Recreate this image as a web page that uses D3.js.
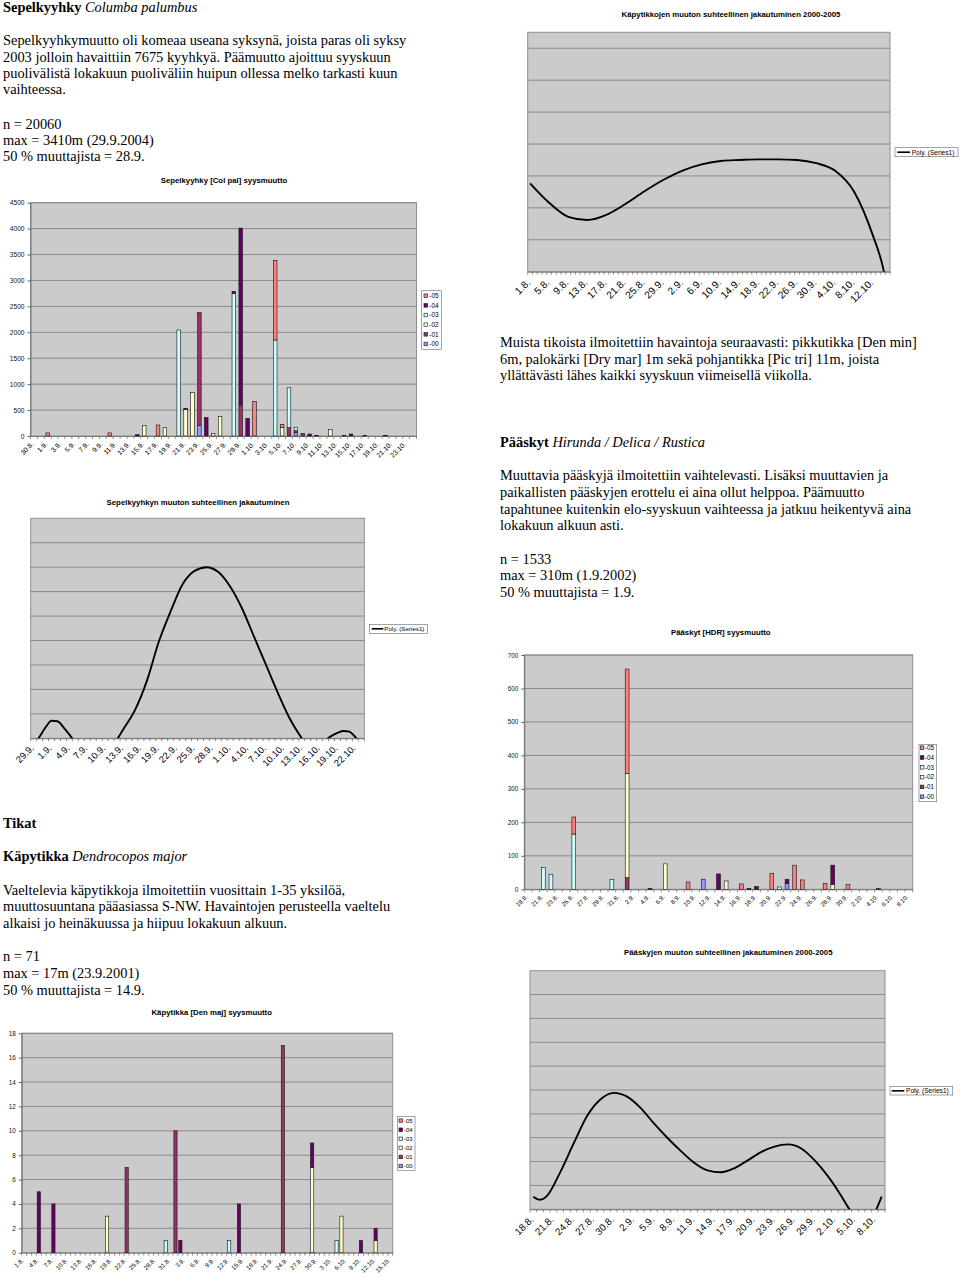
<!DOCTYPE html>
<html><head><meta charset="utf-8">
<script src="https://cdn.jsdelivr.net/npm/d3@7"></script>
<style>
body{margin:0;background:#fff}
svg{display:block}
.serif{font-family:"Liberation Serif","Times New Roman",serif;font-size:14.4px;fill:#000}
.sans{font-family:"Liberation Sans",Arial,sans-serif;fill:#000}
</style></head><body>
<svg id="c" width="960" height="1277"></svg>
<script>
// ================= DATA =================
const seriesKeys = ["-00","-01","-02","-03","-04","-05"];
const seriesColors = ["#9999ff","#993366","#ffffcc","#ccffff","#660066","#ff8080"];

function dayLabels(d, m, n){
  const ml = {8:31, 9:30, 10:31};
  const out = [];
  for(let k=0;k<n;k++){ out.push(d+"."+m+"."); d++; if(d>ml[m]){d=1;m++;} }
  return out;
}

// Sepelkyyhky [Col pal] syysmuutto (stacked by year)
const colpalCats = dayLabels(30, 8, 56);
const colpalTicks = ["30.8.","1.9.","3.9.","5.9.","7.9.","9.9.","11.9.","13.9.","15.9.","17.9.","19.9.","21.9.","23.9.","25.9.","27.9.","29.9.","1.10.","3.10.","5.10.","7.10.","9.10.","11.10.","13.10.","15.10.","17.10.","19.10.","21.10.","23.10."];
//            cat      -00  -01   -02   -03   -04   -05
const colpalRows = [
  ["1.9.",    0,    0,    0,    0,    0,   60],
  ["10.9.",   0,    0,    0,    0,    0,   60],
  ["14.9.",   0,    0,    0,    0,   25,    0],
  ["15.9.",   0,    0,  205,    0,    0,    0],
  ["17.9.",   0,    0,    0,    0,    0,  212],
  ["18.9.",   0,    0,  160,    0,    0,    0],
  ["20.9.",   0,    0,    0, 2045,    0,    0],
  ["21.9.",   0,    0,  510,    0,   25,    0],
  ["22.9.",   0,    0,  836,    0,    0,    0],
  ["23.9.", 200, 2180,    0,    0,    0,    0],
  ["24.9.",   0,    0,    0,    0,  354,    0],
  ["25.9.",   0,    0,   45,    0,    0,    0],
  ["26.9.",   0,    0,  373,    0,    0,    0],
  ["28.9.",   0,    0,    0, 2750,   40,    0],
  ["29.9.",   0,  600,    0,    0, 3410,    0],
  ["30.9.",   0,    0,    0,    0,  340,    0],
  ["1.10.",   0,    0,    0,    0,    0,  669],
  ["4.10.",   0,    0,    0, 1852,    0, 1530],
  ["5.10.",   0,    0,  160,    0,    0,   65],
  ["6.10.",   0,  160,    0,  770,    0,    0],
  ["7.10.",  65,   40,    0,   65,    0,    0],
  ["8.10.",   0,   50,    0,    0,    0,    0],
  ["9.10.",   0,    0,    0,    0,   38,    0],
  ["10.10.",  0,   13,    0,    0,    0,    0],
  ["12.10.",  0,    0,  128,    0,    0,    0],
  ["14.10.",  0,   13,    0,    0,    0,    0],
  ["15.10.",  0,    0,    0,    0,   38,    0],
  ["17.10.",  0,   13,    0,    0,    0,    0],
  ["20.10.",  0,    6,    0,    0,    0,    0]
];
const colpalYTicks = [0,500,1000,1500,2000,2500,3000,3500,4000,4500];

// Käpytikkojen muuton suhteellinen jakautuminen (trend line)
const kapyRelCats = dayLabels(1, 8, 76);
const kapyRelTicks = ["1.8.","5.8.","9.8.","13.8.","17.8.","21.8.","25.8.","29.9.","2.9.","6.9.","10.9.","14.9.","18.9.","22.9.","26.9.","30.9.","4.10.","8.10.","12.10."];
const kapyRelCurve = [["1.8.",2.77],["5.8.",2.16],["9.8.",1.72],["13.8.",1.62],["17.8.",1.78],["21.8.",2.12],["25.8.",2.52],["29.8.",2.88],["2.9.",3.17],["6.9.",3.36],["10.9.",3.47],["14.9.",3.50],["18.9.",3.52],["22.9.",3.52],["26.9.",3.50],["30.9.",3.40],["4.10.",3.16],["8.10.",2.50],["12.10.",1.10],["14.10.",0.15],["15.10.",-0.6]];

// Sepelkyyhkyn muuton suhteellinen jakautuminen (trend line)
const colpalRelCats = dayLabels(29, 8, 56);
const colpalRelTicks = ["29.9.","1.9.","4.9.","7.9.","10.9.","13.9.","16.9.","19.9.","22.9.","25.9.","28.9.","1.10.","4.10.","7.10.","10.10.","13.10.","16.10.","19.10.","22.10."];
const colpalRelCurve = [["29.8.",-0.3],["30.8.",0.07],["31.8.",0.45],["1.9.",0.72],["2.9.",0.70],["3.9.",0.45],["4.9.",0.15],["5.9.",-0.2],["6.9.",null],
  ["11.9.",-0.5],["12.9.",-0.05],["13.9.",0.35],["15.9.",1.15],["17.9.",2.35],["19.9.",3.95],["21.9.",5.2],["23.9.",6.3],["25.9.",6.85],["27.9.",7.0],["29.9.",6.8],["1.10.",6.2],["3.10.",5.3],["5.10.",4.15],["7.10.",3.0],["9.10.",1.85],["11.10.",0.8],["13.10.",0.0],["14.10.",-0.35],["15.10.",null],
  ["17.10.",-0.08],["18.10.",0.10],["19.10.",0.22],["20.10.",0.30],["21.10.",0.27],["22.10.",0.05],["23.10.",-0.2]];

// Pääskyt [HDR] syysmuutto (stacked by year)
const hdrCats = dayLabels(19, 8, 51);
const hdrTicks = ["19.8.","21.8.","23.8.","25.8.","27.8.","29.8.","31.8.","2.9.","4.9.","6.9.","8.9.","10.9.","12.9.","14.9.","16.9.","18.9.","20.9.","22.9.","24.9.","26.9.","28.9.","30.9.","2.10.","4.10.","6.10.","8.10."];
const hdrRows = [
  ["21.8.",  0,  0,   0,  65,  0,   0],
  ["22.8.",  0,  0,   0,  45,  0,   0],
  ["25.8.",  0,  0,   0, 165,  0,  51],
  ["30.8.",  0,  0,   0,  30,  0,   0],
  ["1.9.",   0, 35, 311,   0,  0, 312],
  ["4.9.",   0,  0,   0,   0,  3,   0],
  ["6.9.",   0,  0,  76,   0,  0,   0],
  ["9.9.",   0,  0,   0,   0,  0,  22],
  ["11.9.", 30,  0,   0,   0,  0,   0],
  ["13.9.",  0,  0,   0,   0, 46,   0],
  ["14.9.",  0,  0,  25,   0,  0,   0],
  ["16.9.",  0,  0,   0,   0,  0,  16],
  ["17.9.",  0,  0,   0,   0,  3,   0],
  ["18.9.",  0,  0,   0,   0,  8,   0],
  ["20.9.",  0,  0,   0,   0,  0,  48],
  ["21.9.",  0,  0,   0,   7,  0,   0],
  ["22.9.", 18,  0,   0,   0, 12,   0],
  ["23.9.",  0,  0,   0,   0,  0,  72],
  ["24.9.",  0,  0,   0,   0,  0,  28],
  ["27.9.",  0,  0,   0,   0,  0,  17],
  ["28.9.",  0,  0,  15,   0, 57,   0],
  ["30.9.",  0,  0,   0,   0,  0,  15],
  ["4.10.",  0,  0,   0,   0,  2,   0]
];
const hdrYTicks = [0,100,200,300,400,500,600,700];

// Käpytikka [Den maj] syysmuutto (stacked by year)
const denmajCats = dayLabels(1, 8, 76);
const denmajTicks = ["1.8.","4.8.","7.8.","10.8.","13.8.","16.8.","19.8.","22.8.","25.8.","28.8.","31.8.","3.9.","6.9.","9.9.","12.9.","15.9.","18.9.","21.9.","24.9.","27.9.","30.9.","3.10.","6.10.","9.10.","12.10.","15.10."];
const denmajRows = [
  ["4.8.",  0,  0, 0, 0, 5, 0],
  ["7.8.",  0,  0, 0, 0, 4, 0],
  ["18.8.", 0,  0, 3, 0, 0, 0],
  ["22.8.", 0,  7, 0, 0, 0, 0],
  ["30.8.", 0,  0, 0, 1, 0, 0],
  ["1.9.",  0, 10, 0, 0, 0, 0],
  ["2.9.",  0,  0, 0, 0, 1, 0],
  ["12.9.", 0,  0, 0, 1, 0, 0],
  ["14.9.", 0,  0, 0, 0, 4, 0],
  ["23.9.", 0, 17, 0, 0, 0, 0],
  ["29.9.", 0,  0, 7, 0, 2, 0],
  ["4.10.", 0,  0, 0, 1, 0, 0],
  ["5.10.", 0,  0, 3, 0, 0, 0],
  ["9.10.", 0,  0, 0, 0, 1, 0],
  ["12.10.",0,  0, 1, 0, 1, 0]
];
const denmajYTicks = [0,2,4,6,8,10,12,14,16,18];

// Pääskyjen muuton suhteellinen jakautuminen (trend line)
const paaskyRelCats = dayLabels(18, 8, 53);
const paaskyRelTicks = ["18.8.","21.8.","24.8.","27.8.","30.8.","2.9.","5.9.","8.9.","11.9.","14.9.","17.9.","20.9.","23.9.","26.9.","29.9.","2.10.","5.10.","8.10."];
const paaskyRelCurve = [["18.8.",0.53],["19.8.",0.40],["20.8.",0.55],["22.8.",1.55],["24.8.",2.75],["26.8.",3.9],["28.8.",4.6],["30.8.",4.88],["1.9.",4.72],["3.9.",4.25],["5.9.",3.6],["7.9.",3.0],["9.9.",2.45],["11.9.",1.95],["13.9.",1.63],["15.9.",1.55],["17.9.",1.72],["19.9.",2.05],["21.9.",2.4],["23.9.",2.63],["25.9.",2.72],["27.9.",2.55],["29.9.",2.05],["1.10.",1.38],["3.10.",0.55],["4.10.",0.08],["5.10.",-0.3],["6.10.",null],["8.10.",-0.15],["9.10.",0.53]];

// ================= DRAWING =================
const svg = d3.select("#c");
const PLOT_FILL = "#cbcbcb", GRID = "#8a8a8a", BORDER = "#8f8f8f";
const SANS = "Liberation Sans, Arial, sans-serif";

function title(t, x, y, fs){
  svg.append("text").attr("class","sans").attr("x",x).attr("y",y).attr("text-anchor","middle")
    .attr("dominant-baseline","central").style("font-size",(fs||7.8)+"px").style("font-weight","bold").text(t);
}

function xAxis(g, c, x){
  const step = x.step();
  g.append("g").selectAll("line").data(d3.range(c.cats.length+1)).join("line")
    .attr("x1",i=>c.x0+i*step).attr("x2",i=>c.x0+i*step).attr("y1",c.y1).attr("y2",c.y1+3)
    .attr("stroke","#666").attr("stroke-width",0.7);
  const tickCats = c.ticks.map((t,i)=>c.cats[i*c.tickStep]);
  const ax = g.append("g").attr("transform",`translate(0,${c.y1})`)
    .call(d3.axisBottom(x).tickValues(tickCats).tickFormat((d,i)=>c.ticks[i]).tickSize(0).tickSizeOuter(0));
  ax.select(".domain").attr("stroke","#666").attr("stroke-width",0.8);
  ax.selectAll("text").attr("class","sans").attr("x",0).attr("y",0).attr("dy","0.35em")
    .attr("text-anchor","end").attr("transform",`translate(${c.lx},${c.ly}) rotate(-45)`)
    .style("font-size",c.xfs+"px").style("font-family",SANS).attr("fill","#111");
}

function drawBarChart(c){
  const g = svg.append("g");
  const x = d3.scaleBand().domain(c.cats).range([c.x0,c.x1]);
  const y = d3.scaleLinear().domain([0,c.ymax]).range([c.y1,c.y0]);
  g.append("rect").attr("x",c.x0).attr("y",c.y0).attr("width",c.x1-c.x0).attr("height",c.y1-c.y0)
    .attr("fill",PLOT_FILL).attr("stroke",BORDER).attr("stroke-width",1);
  g.append("g").selectAll("line").data(c.yticks.filter(v=>v>0)).join("line")
    .attr("x1",c.x0).attr("x2",c.x1).attr("y1",d=>y(d)).attr("y2",d=>y(d)).attr("stroke",GRID).attr("stroke-width",1);
  const ya = g.append("g").attr("transform",`translate(${c.x0},0)`)
    .call(d3.axisLeft(y).tickValues(c.yticks).tickFormat(d3.format("d")).tickSize(3).tickPadding(3).tickSizeOuter(0));
  ya.select(".domain").attr("stroke","#666").attr("stroke-width",0.8);
  ya.selectAll(".tick line").attr("stroke","#666");
  ya.selectAll("text").style("font-size",c.yfs+"px").style("font-family",SANS).attr("fill","#111");
  xAxis(g, c, x);
  const objs = c.rows.map(r=>{const o={cat:r[0]}; seriesKeys.forEach((k,i)=>o[k]=r[i+1]); return o;});
  const st = d3.stack().keys(seriesKeys)(objs);
  g.append("g").selectAll("g").data(st).join("g").attr("fill",(d,i)=>seriesColors[i])
    .selectAll("rect").data(d=>d.filter(p=>p[1]>p[0])).join("rect")
    .attr("x",p=>x(p.data.cat)+x.bandwidth()/2-c.barW/2).attr("width",c.barW)
    .attr("y",p=>y(p[1])).attr("height",p=>y(p[0])-y(p[1]))
    .attr("stroke","#111").attr("stroke-width",0.6);
  const L = c.legend;
  const lg = g.append("g");
  lg.append("rect").attr("x",L.x).attr("y",L.y).attr("width",L.w).attr("height",L.h).attr("fill","#fff").attr("stroke","#666").attr("stroke-width",0.6);
  const order = seriesKeys.map((k,i)=>i).reverse();
  const items = lg.selectAll("g").data(order).join("g").attr("transform",(d,j)=>`translate(0,${L.first+j*L.dy})`);
  items.append("rect").attr("x",L.sx).attr("y",-1.8).attr("width",3.6).attr("height",3.6).attr("fill",i=>seriesColors[i]).attr("stroke","#111").attr("stroke-width",0.6);
  items.append("text").attr("class","sans").attr("x",L.tx).attr("y",0).attr("dy","0.35em").style("font-size",L.fs+"px").text(i=>seriesKeys[i]);
  title(c.title, c.tx, c.ty, c.tfs);
}

let clipId = 0;
function drawCurveChart(c){
  const g = svg.append("g");
  const x = d3.scaleBand().domain(c.cats).range([c.x0,c.x1]);
  const y = d3.scaleLinear().domain([0,c.ymax]).range([c.y1,c.y0]);
  g.append("rect").attr("x",c.x0).attr("y",c.y0).attr("width",c.x1-c.x0).attr("height",c.y1-c.y0)
    .attr("fill",PLOT_FILL).attr("stroke",BORDER).attr("stroke-width",1);
  g.append("g").selectAll("line").data(d3.range(1, Math.ceil(c.ymax))).join("line")
    .attr("x1",c.x0).attr("x2",c.x1).attr("y1",d=>y(d)).attr("y2",d=>y(d)).attr("stroke",GRID).attr("stroke-width",1);
  xAxis(g, c, x);
  const id = "clip"+(clipId++);
  svg.append("clipPath").attr("id",id).append("rect").attr("x",c.x0).attr("y",c.y0).attr("width",c.x1-c.x0).attr("height",c.y1-c.y0);
  const line = d3.line().defined(p=>p[1]!==null).x(p=>x(p[0])+x.bandwidth()/2).y(p=>y(p[1])).curve(d3.curveMonotoneX);
  g.append("path").attr("clip-path",`url(#${id})`).attr("d",line(c.curve)).attr("fill","none").attr("stroke","#000").attr("stroke-width",1.9);
  const L = c.legend;
  g.append("rect").attr("x",L.x).attr("y",L.y).attr("width",L.w).attr("height",L.h).attr("fill","#fff").attr("stroke","#666").attr("stroke-width",0.6);
  g.append("line").attr("x1",L.lx1).attr("x2",L.lx2).attr("y1",L.y+L.h/2).attr("y2",L.y+L.h/2).attr("stroke","#000").attr("stroke-width",1.6);
  g.append("text").attr("class","sans").attr("x",L.tx).attr("y",L.y+L.h/2).attr("dy","0.35em").style("font-size",L.fs+"px").text("Poly. (Series1)");
  title(c.title, c.tx, c.ty, c.tfs);
}

function textBlock(x, lines){
  lines.forEach(([yy, segs])=>{
    const t = svg.append("text").attr("class","serif").attr("x",x).attr("y",yy);
    segs.forEach(s=>{
      const ts = t.append("tspan").text(s[0]);
      if(s[1]==="b") ts.style("font-weight","bold");
      if(s[1]==="i") ts.style("font-style","italic");
    });
  });
}

// ---- text ----
textBlock(3, [
  [11.5, [["Sepelkyyhky ","b"],["Columba palumbus","i"]]],
  [45.4, [["Sepelkyyhkymuutto oli komeaa useana syksynä, joista paras oli syksy"]]],
  [61.7, [["2003 jolloin havaittiin 7675 kyyhkyä. Päämuutto ajoittuu syyskuun"]]],
  [78.0, [["puolivälistä lokakuun puoliväliin huipun ollessa melko tarkasti kuun"]]],
  [94.4, [["vaihteessa."]]],
  [128.6, [["n = 20060"]]],
  [144.8, [["max = 3410m (29.9.2004)"]]],
  [161.2, [["50 % muuttajista = 28.9."]]]
]);
textBlock(500, [
  [347.2, [["Muista tikoista ilmoitettiin havaintoja seuraavasti: pikkutikka [Den min]"]]],
  [363.8, [["6m, palokärki [Dry mar] 1m sekä pohjantikka [Pic tri] 11m, joista"]]],
  [380.2, [["yllättävästi lähes kaikki syyskuun viimeisellä viikolla."]]],
  [446.8, [["Pääskyt ","b"],["Hirunda / Delica / Rustica","i"]]],
  [480.2, [["Muuttavia pääskyjä ilmoitettiin vaihtelevasti. Lisäksi muuttavien ja"]]],
  [496.8, [["paikallisten pääskyjen erottelu ei aina ollut helppoa. Päämuutto"]]],
  [513.5, [["tapahtunee kuitenkin elo-syyskuun vaihteessa ja jatkuu heikentyvä aina"]]],
  [530.2, [["lokakuun alkuun asti."]]],
  [563.5, [["n = 1533"]]],
  [580.2, [["max = 310m (1.9.2002)"]]],
  [596.8, [["50 % muuttajista = 1.9."]]]
]);
textBlock(3, [
  [827.8, [["Tikat","b"]]],
  [861.2, [["Käpytikka ","b"],["Dendrocopos major","i"]]],
  [894.5, [["Vaeltelevia käpytikkoja ilmoitettiin vuosittain 1-35 yksilöä,"]]],
  [911.2, [["muuttosuuntana pääasiassa S-NW. Havaintojen perusteella vaeltelu"]]],
  [927.8, [["alkaisi jo heinäkuussa ja hiipuu lokakuun alkuun."]]],
  [961.2, [["n = 71"]]],
  [977.8, [["max = 17m (23.9.2001)"]]],
  [994.5, [["50 % muuttajista = 14.9."]]]
]);

// ---- charts ----
drawBarChart({title:"Sepelkyyhky [Col pal] syysmuutto", tx:224, ty:180,
  x0:30.5, x1:416.5, y0:202.7, y1:436, ymax:4500, yticks:colpalYTicks,
  cats:colpalCats, ticks:colpalTicks, tickStep:2, rows:colpalRows, barW:3.6,
  xfs:6.8, yfs:6.6, lx:-1.5, ly:7,
  legend:{x:421.7, y:290.7, w:19.6, h:58.6, first:295.7, dy:9.66, sx:424, tx:429.3, fs:6.5}});

drawCurveChart({title:"Käpytikkojen muuton suhteellinen jakautuminen 2000-2005", tx:731, ty:14,
  x0:527.7, x1:890, y0:32.3, y1:271.7, ymax:7.5,
  cats:kapyRelCats, ticks:kapyRelTicks, tickStep:4, curve:kapyRelCurve,
  xfs:10.2, lx:-1.5, ly:9,
  legend:{x:895, y:147.7, w:63, h:9, lx1:897.3, lx2:910, tx:911.7, fs:6.6}});

drawCurveChart({title:"Sepelkyyhkyn muuton suhteellinen jakautuminen", tx:198, ty:502.7,
  x0:30.7, x1:364.3, y0:518.3, y1:738.3, ymax:9,
  cats:colpalRelCats, ticks:colpalRelTicks, tickStep:3, curve:colpalRelCurve,
  xfs:9.4, lx:-1.5, ly:8,
  legend:{x:369.3, y:624.3, w:58, h:9, lx1:371.7, lx2:383.3, tx:384.3, fs:6.2}});

drawBarChart({title:"Pääskyt [HDR] syysmuutto", tx:720.8, ty:632.7,
  x0:524.3, x1:912.7, y0:655, y1:889.3, ymax:700, yticks:hdrYTicks,
  cats:hdrCats, ticks:hdrTicks, tickStep:2, rows:hdrRows, barW:3.8,
  xfs:6.2, yfs:6.3, lx:-1.5, ly:6.5,
  legend:{x:919, y:744.3, w:17.7, h:57.4, first:747.7, dy:9.8, sx:920.3, tx:925, fs:6.3}});

drawBarChart({title:"Käpytikka [Den maj] syysmuutto", tx:211.7, ty:1012.3,
  x0:21.7, x1:392.7, y0:1033.3, y1:1252.7, ymax:18, yticks:denmajYTicks,
  cats:denmajCats, ticks:denmajTicks, tickStep:3, rows:denmajRows, barW:3.2,
  xfs:6.2, yfs:6.3, lx:-1.5, ly:6.5,
  legend:{x:397.3, y:1116.7, w:17.7, h:54, first:1120.7, dy:9.06, sx:399, tx:404, fs:6}});

drawCurveChart({title:"Pääskyjen muuton suhteellinen jakautuminen 2000-2005", tx:728.3, ty:952.7,
  x0:530, x1:885, y0:970.7, y1:1209.3, ymax:10,
  cats:paaskyRelCats, ticks:paaskyRelTicks, tickStep:3, curve:paaskyRelCurve,
  xfs:9.8, lx:-1.5, ly:8.5,
  legend:{x:890, y:1086.7, w:62.7, h:8.3, lx1:891.7, lx2:904.3, tx:906, fs:6.6}});
</script>
</body></html>
